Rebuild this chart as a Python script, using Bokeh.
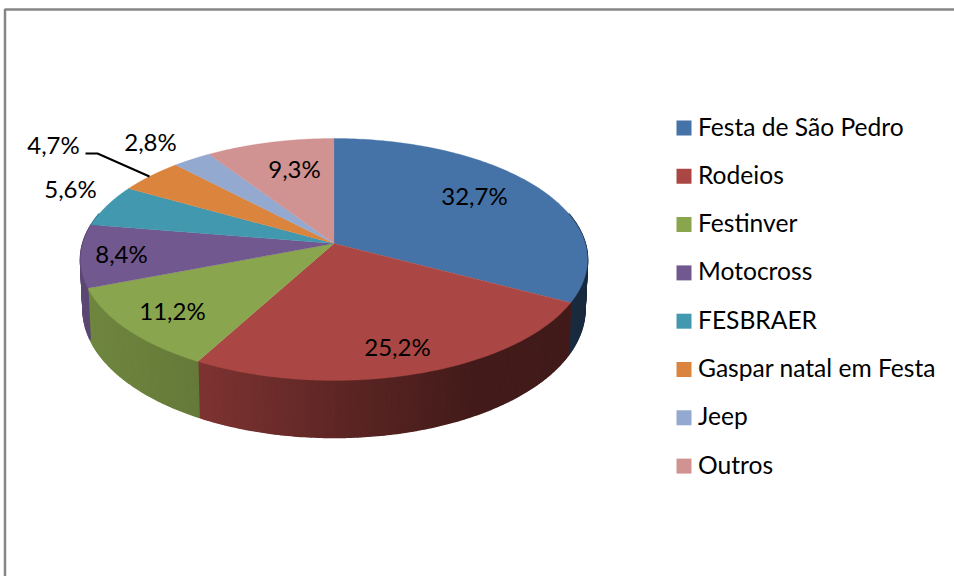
import numpy as np
from bokeh.plotting import figure
from bokeh.models import Range1d
from bokeh.embed import file_html
from bokeh.resources import INLINE
from bokeh.core.properties import value

# ---- data ----
categories = ["Festa de São Pedro", "Rodeios", "Festinver", "Motocross",
              "FESBRAER", "Gaspar natal em Festa", "Jeep", "Outros"]
shares = [32.7, 25.2, 11.2, 8.4, 5.6, 4.7, 2.8, 9.3]

# ---- styles ----
colors = ["#4572A7", "#AA4643", "#89A54E", "#71588F",
          "#4198AF", "#DB843D", "#93A9CF", "#D19392"]
FONT = "Lato"
W, H = 954, 576

# ---- layout (pixel space) ----
label_xy = [(474, 195), (397, 346), (172, 310), (121, 253),
            (70, 188), (53, 144), (150, 141), (294, 168)]
leader_x = [85, 97, 149]
leader_y = [153, 153, 176]
legend_sq_x = 683.5
legend_txt_x = 697.5
legend_y0, legend_dy = 127.5, 48.3
legend_txt_dy = -2

# 3D projection of the pie
CX, CY, A, B, K = 333.5, 243.0, 251.3, 118.9, 0.132
DEPTH, SX, SY = 48.8, 0.99, 1.06


def top(t):
    w = 1 + K * np.cos(t)
    return CX + A * np.sin(t) / w, CY - B * np.cos(t) / w


def bottom(t):
    w = 1 + K * np.cos(t)
    return CX + SX * A * np.sin(t) / w, CY + DEPTH - SY * B * np.cos(t) / w


def shade(hex_color, f):
    r, g, b = (int(hex_color[i:i + 2], 16) for i in (1, 3, 5))
    return "#%02x%02x%02x" % (int(r * f), int(g * f), int(b * f))


p = figure(width=W, height=H, x_range=Range1d(0, W), y_range=Range1d(H, 0),
           output_backend="svg", toolbar_location=None, min_border=0,
           outline_line_color=None, background_fill_color="white",
           border_fill_color="white")
p.axis.visible = False
p.grid.visible = False

# frame of the chart area
p.line([4.5, 4.5, W], [H, 9, 9], line_color="#868686", line_width=2.5)

edges = np.cumsum([0] + shares) / sum(shares) * 2 * np.pi

# side wall, drawn as fine strips so that the shading follows x
vis_lo, vis_hi = np.radians(75), np.radians(285)
sx, sy, sc = [], [], []
for i, col in enumerate(colors):
    lo, hi = max(edges[i], vis_lo), min(edges[i + 1], vis_hi)
    if hi <= lo:
        continue
    n = max(2, int(np.degrees(hi - lo) * 1.5))
    ts = np.linspace(lo, hi, n + 1)
    for a, b in zip(ts[:-1], ts[1:]):
        xa, ya = top(a); xb, yb = top(b)
        xc, yc = bottom(b); xd, yd = bottom(a)
        f = float(np.interp((xa + xb) / 2, [80, 200, 340, 470, 590],
                            [0.82, 0.74, 0.55, 0.40, 0.38]))
        sx.append([xa, xb, xc, xd]); sy.append([ya, yb, yc, yd])
        sc.append(shade(col, f))
p.patches(sx, sy, fill_color=sc, line_color=sc, line_width=1.5)

# top face
for i, col in enumerate(colors):
    ts = np.linspace(edges[i], edges[i + 1], 120)
    x, y = top(ts)
    p.patch([CX, *x], [CY, *y], fill_color=col, line_color=col, line_width=0.3)

# leader line
p.line(leader_x, leader_y, line_color="black", line_width=2)

# slice labels
labels = [f"{v:.1f}%".replace(".", ",") for v in shares]
p.text([q[0] for q in label_xy], [q[1] for q in label_xy], text=labels,
       text_font=value(FONT), text_font_size="24px", text_color="#000000",
       text_align="center", text_baseline="middle")

# legend
ly = [legend_y0 + legend_dy * i for i in range(len(categories))]
p.scatter([legend_sq_x] * len(ly), ly, marker="square", size=15,
          fill_color=colors, line_color=None)
p.text([legend_txt_x] * len(ly), [y + legend_txt_dy for y in ly], text=categories,
       text_font=value(FONT), text_font_size="24.6px", text_color="#000000",
       text_align="left", text_baseline="middle")

open("out.html", "w").write(file_html(p, INLINE))
